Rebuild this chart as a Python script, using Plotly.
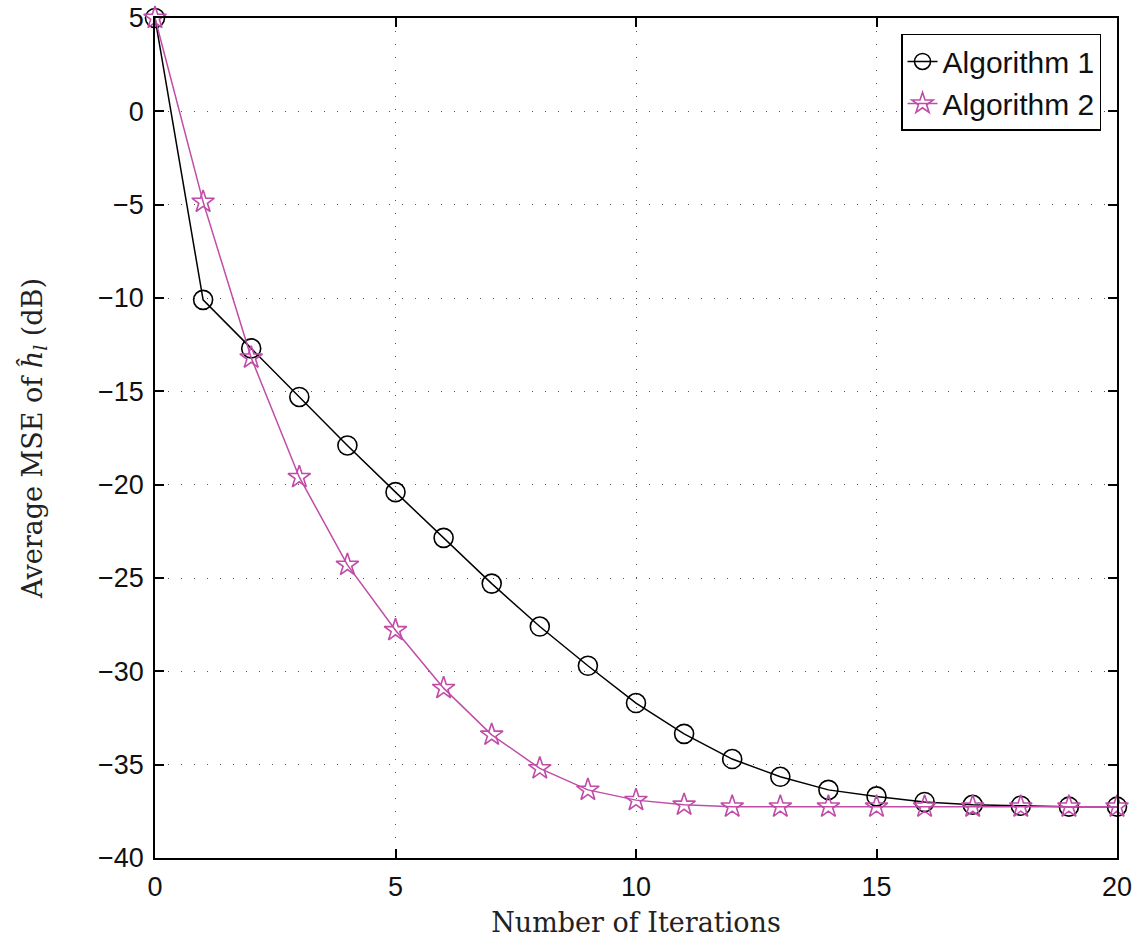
import plotly.graph_objects as go

iterations = list(range(21))
alg1 = [5.0, -10.1, -12.7, -15.3, -17.9, -20.4, -22.85, -25.3, -27.6, -29.7, -31.7,
        -33.35, -34.7, -35.65, -36.35, -36.7, -37.0, -37.15, -37.2, -37.25, -37.25]
alg2 = [5.0, -4.85, -13.2, -19.6, -24.3, -27.8, -30.9, -33.4, -35.2, -36.35, -36.9,
        -37.15, -37.25, -37.25, -37.25, -37.25, -37.25, -37.25, -37.25, -37.25, -37.25]
x_ticks = [0, 5, 10, 15, 20]
y_ticks = [5, 0, -5, -10, -15, -20, -25, -30, -35, -40]

MAGENTA = "#C04CA8"

fig = go.Figure()
fig.add_trace(go.Scatter(
    x=iterations, y=alg1, mode="lines+markers", name="Algorithm 1",
    line=dict(color="black", width=1.5), cliponaxis=False,
    marker=dict(symbol="circle-open", size=19, color="black", line=dict(width=1.6)),
))
fig.add_trace(go.Scatter(
    x=iterations, y=alg2, mode="lines+markers", name="Algorithm 2",
    line=dict(color=MAGENTA, width=1.5), cliponaxis=False,
    marker=dict(symbol="star-open", size=17, color=MAGENTA, line=dict(width=1.6)),
))

axis_common = dict(
    showline=True, linecolor="black", linewidth=1.5, mirror="ticks",
    ticks="inside", ticklen=9, tickwidth=1.5, tickcolor="black",
    showgrid=True, gridcolor="#555555", griddash="1px,12px", gridwidth=1.2,
    zeroline=False, automargin=False,
    tickfont=dict(family="Liberation Sans, Arial", size=27, color="#111"),
)

title_font = dict(family="DejaVu Serif, Liberation Serif", size=27, color="#222")

fig.update_xaxes(
    range=[0, 20], tickvals=x_ticks, ticklabelstandoff=4,
    title=dict(text="Number of Iterations", font=title_font, standoff=12),
    **axis_common,
)
fig.update_yaxes(
    range=[-40, 5], tickvals=y_ticks, ticklabelstandoff=4,
    title=dict(text="Average MSE of <i>ĥ</i><sub><i>l</i></sub> (dB)", font=title_font, standoff=48),
    **axis_common,
)

fig.update_layout(
    width=1144, height=945,
    margin=dict(l=155, r=27, t=18, b=87),
    plot_bgcolor="white", paper_bgcolor="white",
    showlegend=True,
    legend=dict(
        x=0.9834, y=0.981, xanchor="right", yanchor="top",
        bgcolor="white", bordercolor="black", borderwidth=1.5,
        font=dict(family="Liberation Sans, Arial", size=30, color="#111"),
        tracegroupgap=0,
    ),
)

fig.write_html("out.html")
